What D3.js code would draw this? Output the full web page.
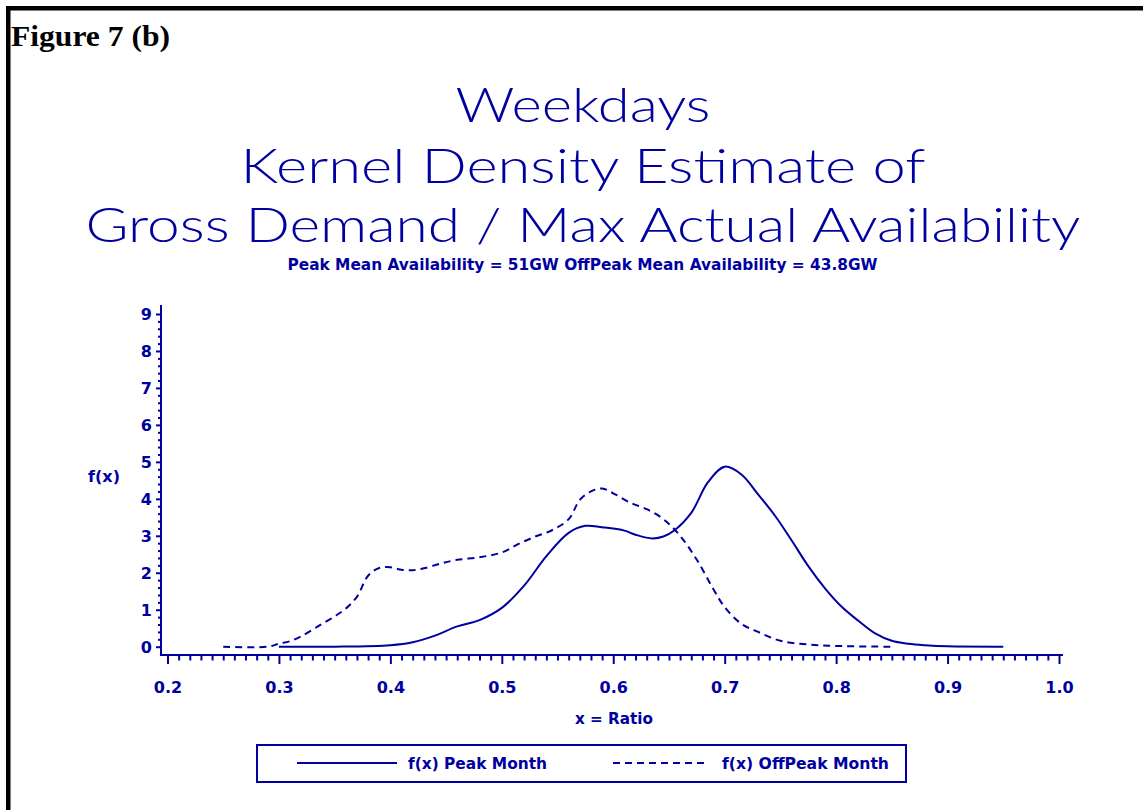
<!DOCTYPE html>
<html>
<head>
<meta charset="utf-8">
<script src="https://cdn.jsdelivr.net/npm/d3@7/dist/d3.min.js"></script>
<style>
  html, body { margin: 0; padding: 0; background: #fff; }
  svg { display: block; }
</style>
</head>
<body>
<svg id="chart" width="1143" height="810"></svg>
<script>
// ---- data ----
const peakX = [0.30,0.35,0.40,0.42,0.44,0.46,0.48,0.50,0.52,0.54,0.56,0.575,0.59,0.61,0.62,0.635,0.645,0.655,0.67,0.685,0.70,0.715,0.73,0.745,0.76,0.775,0.79,0.805,0.82,0.835,0.85,0.865,0.88,0.90,0.95];
const peakY = [0,0,0.04,0.12,0.30,0.55,0.72,1.05,1.65,2.45,3.08,3.27,3.23,3.14,3.03,2.93,2.98,3.15,3.62,4.45,4.87,4.66,4.12,3.55,2.88,2.18,1.58,1.08,0.70,0.36,0.16,0.08,0.04,0.01,0];
const offX = [0.25,0.29,0.30,0.31,0.32,0.335,0.35,0.36,0.37,0.38,0.39,0.40,0.41,0.42,0.43,0.445,0.46,0.48,0.50,0.515,0.53,0.545,0.56,0.57,0.58,0.59,0.60,0.615,0.63,0.645,0.66,0.675,0.69,0.70,0.715,0.73,0.75,0.775,0.80,0.85];
const offY = [0,0,0.08,0.15,0.28,0.55,0.82,1.03,1.35,1.92,2.13,2.15,2.08,2.07,2.12,2.25,2.35,2.42,2.55,2.78,2.98,3.15,3.45,3.97,4.20,4.28,4.15,3.90,3.72,3.45,3.00,2.35,1.55,1.07,0.62,0.40,0.16,0.06,0.02,0];
const xTickValues = [0.2,0.3,0.4,0.5,0.6,0.7,0.8,0.9,1.0];
const xTickLabels = ["0.2","0.3","0.4","0.5","0.6","0.7","0.8","0.9","1.0"];
const yTickValues = [0,1,2,3,4,5,6,7,8,9];
const yTickLabels = ["0","1","2","3","4","5","6","7","8","9"];
const titleLines = ["Weekdays","Kernel Density Estimate of","Gross Demand / Max Actual Availability"];
const subtitle = "Peak Mean Availability = 51GW OffPeak Mean Availability = 43.8GW";
const seriesNames = ["f(x) Peak Month","f(x) OffPeak Month"];
const figureLabel = "Figure 7 (b)";

// ---- drawing ----
const blue = "#0000a0";
const svg = d3.select("#chart");

// page border (top and left)
svg.append("rect").attr("x",6).attr("y",6).attr("width",1137).attr("height",4.5).attr("fill","#000");
svg.append("rect").attr("x",6).attr("y",6).attr("width",4.5).attr("height",804).attr("fill","#000");

svg.append("text").attr("x",11).attr("y",46)
  .attr("font-family","Liberation Serif, Times New Roman, serif")
  .attr("font-weight","bold").attr("font-size",29)
  .attr("textLength",159).attr("lengthAdjust","spacingAndGlyphs")
  .attr("fill","#000").text(figureLabel);

// titles
const titleBase = [122,183,242];
const titleWidths = [255,685,995];
titleLines.forEach((t,i) => {
  svg.append("text").attr("x",583).attr("y",titleBase[i])
    .attr("text-anchor","middle")
    .attr("font-family","Lato, 'Open Sans', sans-serif")
    .attr("font-weight",300).attr("font-size",48)
    .attr("textLength",titleWidths[i]).attr("lengthAdjust","spacingAndGlyphs")
    .attr("fill",blue).text(t);
});
svg.append("text").attr("x",582.5).attr("y",270)
  .attr("text-anchor","middle")
  .attr("font-family","DejaVu Sans, sans-serif").attr("font-weight","bold").attr("font-size",15)
  .attr("textLength",590).attr("lengthAdjust","spacingAndGlyphs")
  .attr("fill",blue).text(subtitle);

// scales
const x = d3.scaleLinear().domain([0.2,1.0]).range([167.5,1059]);
const y = d3.scaleLinear().domain([0,9]).range([646.7,314]);
const axisY0 = 655, axisX0 = 161;

// x axis minor ticks
const xMinor = d3.range(20,101).map(v => v/100).filter(v => Math.round(v*100)%10 !== 0);
svg.append("g").attr("transform",`translate(0,${axisY0})`)
  .call(d3.axisBottom(x).tickValues(xMinor).tickSize(5.5).tickFormat(""))
  .call(g => { g.select(".domain").remove(); g.selectAll("line").attr("stroke",blue).attr("stroke-width",2); });
// x axis major
svg.append("g").attr("transform",`translate(0,${axisY0})`)
  .call(d3.axisBottom(x).tickValues(xTickValues).tickSize(9).tickFormat((d,i) => xTickLabels[i]))
  .call(g => {
    g.select(".domain").remove();
    g.selectAll("line").attr("stroke",blue).attr("stroke-width",2);
    g.selectAll("text").attr("y",38).attr("dy",null)
      .attr("font-family","DejaVu Sans, sans-serif").attr("font-weight","bold").attr("font-size",16)
      .attr("fill",blue);
  });
// y axis minor
const yMinor = d3.range(0,46).map(v => v/5).filter(v => Math.abs(v - Math.round(v)) > 1e-6);
svg.append("g").attr("transform",`translate(${axisX0},0)`)
  .call(d3.axisLeft(y).tickValues(yMinor).tickSize(3).tickFormat(""))
  .call(g => { g.select(".domain").remove(); g.selectAll("line").attr("stroke",blue).attr("stroke-width",2); });
// y axis major
svg.append("g").attr("transform",`translate(${axisX0},0)`)
  .call(d3.axisLeft(y).tickValues(yTickValues).tickSize(5).tickFormat((d,i) => yTickLabels[i]))
  .call(g => {
    g.select(".domain").remove();
    g.selectAll("line").attr("stroke",blue).attr("stroke-width",2);
    g.selectAll("text").attr("x",-9).attr("dy","0.36em")
      .attr("font-family","DejaVu Sans, sans-serif").attr("font-weight","bold").attr("font-size",16)
      .attr("fill",blue);
  });
// axis lines
svg.append("line").attr("x1",axisX0).attr("x2",axisX0).attr("y1",305).attr("y2",axisY0+1)
  .attr("stroke",blue).attr("stroke-width",2);
svg.append("line").attr("x1",axisX0-1).attr("x2",1063).attr("y1",axisY0).attr("y2",axisY0)
  .attr("stroke",blue).attr("stroke-width",2);

// axis labels
svg.append("text").attr("x",104).attr("y",482).attr("text-anchor","middle")
  .attr("font-family","DejaVu Sans, sans-serif").attr("font-weight","bold").attr("font-size",16)
  .attr("fill",blue).text("f(x)");
svg.append("text").attr("x",614).attr("y",724).attr("text-anchor","middle")
  .attr("font-family","DejaVu Sans, sans-serif").attr("font-weight","bold").attr("font-size",16)
  .attr("textLength",78).attr("lengthAdjust","spacingAndGlyphs")
  .attr("fill",blue).text("x = Ratio");

// curves
const line = d3.line().x(d => x(d[0])).y(d => Math.min(y(0), y(d[1]))).curve(d3.curveCatmullRom.alpha(0.5));
svg.append("path").datum(peakX.map((v,i) => [v, peakY[i]]))
  .attr("d",line).attr("fill","none").attr("stroke",blue).attr("stroke-width",2);
svg.append("path").datum(offX.map((v,i) => [v, offY[i]]))
  .attr("d",line).attr("fill","none").attr("stroke",blue).attr("stroke-width",2)
  .attr("stroke-dasharray","7,5");

// legend
svg.append("rect").attr("x",257).attr("y",745).attr("width",649).attr("height",37)
  .attr("fill","none").attr("stroke",blue).attr("stroke-width",2);
svg.append("line").attr("x1",297).attr("x2",397).attr("y1",763).attr("y2",763)
  .attr("stroke",blue).attr("stroke-width",2);
svg.append("line").attr("x1",613).attr("x2",706).attr("y1",763).attr("y2",763)
  .attr("stroke",blue).attr("stroke-width",2).attr("stroke-dasharray","7,5");
svg.append("text").attr("x",408).attr("y",769)
  .attr("font-family","DejaVu Sans, sans-serif").attr("font-weight","bold").attr("font-size",16)
  .attr("textLength",139).attr("lengthAdjust","spacingAndGlyphs")
  .attr("fill",blue).text(seriesNames[0]);
svg.append("text").attr("x",722).attr("y",769)
  .attr("font-family","DejaVu Sans, sans-serif").attr("font-weight","bold").attr("font-size",16)
  .attr("textLength",167).attr("lengthAdjust","spacingAndGlyphs")
  .attr("fill",blue).text(seriesNames[1]);
</script>
</body>
</html>
